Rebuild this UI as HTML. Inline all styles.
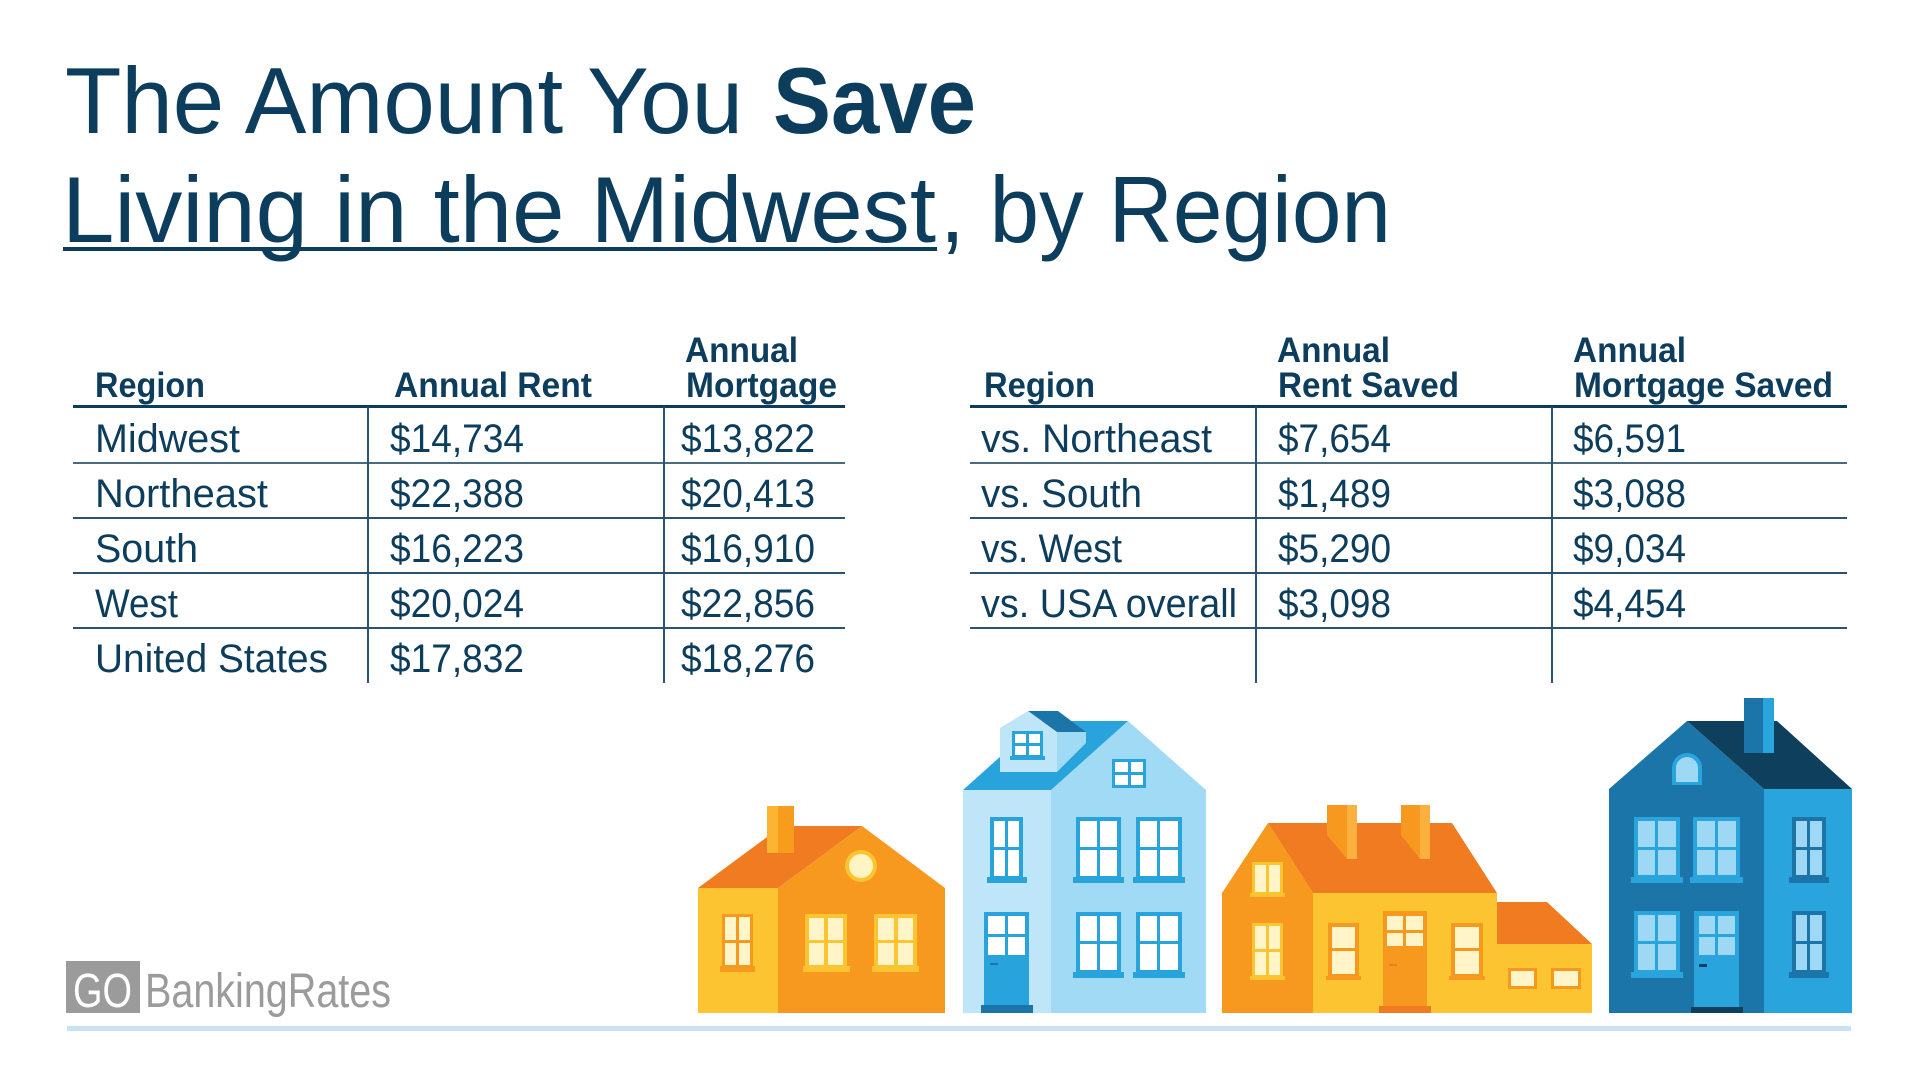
<!DOCTYPE html>
<html>
<head>
<meta charset="utf-8">
<style>
html,body{margin:0;padding:0;background:#fff;}
svg{display:block;}
text{font-family:"Liberation Sans",Arial,sans-serif;fill:#0d3d5c;}
.h{font-weight:bold;font-size:35px;}
.r{font-size:40px;}
</style>
</head>
<body>
<svg width="1920" height="1080" viewBox="0 0 1920 1080" xmlns="http://www.w3.org/2000/svg">
<rect width="1920" height="1080" fill="#fff"/>

<!-- Title -->
<text x="65" y="133" font-size="94" textLength="678" lengthAdjust="spacingAndGlyphs">The Amount You</text>
<text x="773" y="133" font-size="94" font-weight="bold" textLength="203" lengthAdjust="spacingAndGlyphs">Save</text>
<text x="62" y="242" font-size="94" textLength="874" lengthAdjust="spacingAndGlyphs">Living in the Midwest</text>
<text x="940" y="242" font-size="94" textLength="451" lengthAdjust="spacingAndGlyphs">, by Region</text>
<rect x="63" y="247" width="874" height="4" fill="#0d3d5c"/>

<!-- Left table -->
<g>
<text class="h" x="95" y="397" textLength="110" lengthAdjust="spacingAndGlyphs">Region</text>
<text class="h" x="394" y="397" textLength="198" lengthAdjust="spacingAndGlyphs">Annual Rent</text>
<text class="h" x="685" y="362" textLength="113" lengthAdjust="spacingAndGlyphs">Annual</text>
<text class="h" x="686" y="397" textLength="151" lengthAdjust="spacingAndGlyphs">Mortgage</text>
<rect x="73" y="405" width="772" height="3" fill="#0d3d5c"/>
<rect x="73" y="462" width="772" height="2" fill="#4a6a82"/>
<rect x="73" y="517" width="772" height="2" fill="#2a5472"/>
<rect x="73" y="572" width="772" height="2" fill="#2a5472"/>
<rect x="73" y="627" width="772" height="2" fill="#2a5472"/>
<rect x="367" y="407" width="2" height="276" fill="#2a5472"/>
<rect x="663" y="407" width="2" height="276" fill="#2a5472"/>

<text class="r" x="95" y="452" textLength="145" lengthAdjust="spacingAndGlyphs">Midwest</text>
<text class="r" x="95" y="507" textLength="173" lengthAdjust="spacingAndGlyphs">Northeast</text>
<text class="r" x="95" y="562" textLength="103" lengthAdjust="spacingAndGlyphs">South</text>
<text class="r" x="95" y="617" textLength="83" lengthAdjust="spacingAndGlyphs">West</text>
<text class="r" x="95" y="672" textLength="233" lengthAdjust="spacingAndGlyphs">United States</text>

<text class="r" x="390" y="452" textLength="134" lengthAdjust="spacingAndGlyphs">$14,734</text>
<text class="r" x="390" y="507" textLength="134" lengthAdjust="spacingAndGlyphs">$22,388</text>
<text class="r" x="390" y="562" textLength="134" lengthAdjust="spacingAndGlyphs">$16,223</text>
<text class="r" x="390" y="617" textLength="134" lengthAdjust="spacingAndGlyphs">$20,024</text>
<text class="r" x="390" y="672" textLength="134" lengthAdjust="spacingAndGlyphs">$17,832</text>

<text class="r" x="681" y="452" textLength="134" lengthAdjust="spacingAndGlyphs">$13,822</text>
<text class="r" x="681" y="507" textLength="134" lengthAdjust="spacingAndGlyphs">$20,413</text>
<text class="r" x="681" y="562" textLength="134" lengthAdjust="spacingAndGlyphs">$16,910</text>
<text class="r" x="681" y="617" textLength="134" lengthAdjust="spacingAndGlyphs">$22,856</text>
<text class="r" x="681" y="672" textLength="134" lengthAdjust="spacingAndGlyphs">$18,276</text>
</g>

<!-- Right table -->
<g>
<text class="h" x="984" y="397" textLength="111" lengthAdjust="spacingAndGlyphs">Region</text>
<text class="h" x="1277" y="362" textLength="113" lengthAdjust="spacingAndGlyphs">Annual</text>
<text class="h" x="1278" y="397" textLength="181" lengthAdjust="spacingAndGlyphs">Rent Saved</text>
<text class="h" x="1573" y="362" textLength="113" lengthAdjust="spacingAndGlyphs">Annual</text>
<text class="h" x="1574" y="397" textLength="259" lengthAdjust="spacingAndGlyphs">Mortgage Saved</text>
<rect x="970" y="405" width="877" height="3" fill="#0d3d5c"/>
<rect x="970" y="462" width="877" height="2" fill="#4a6a82"/>
<rect x="970" y="517" width="877" height="2" fill="#2a5472"/>
<rect x="970" y="572" width="877" height="2" fill="#2a5472"/>
<rect x="970" y="627" width="877" height="2" fill="#2a5472"/>
<rect x="1255" y="407" width="2" height="276" fill="#2a5472"/>
<rect x="1551" y="407" width="2" height="276" fill="#2a5472"/>

<text class="r" x="981" y="452" textLength="231" lengthAdjust="spacingAndGlyphs">vs. Northeast</text>
<text class="r" x="981" y="507" textLength="161" lengthAdjust="spacingAndGlyphs">vs. South</text>
<text class="r" x="981" y="562" textLength="141" lengthAdjust="spacingAndGlyphs">vs. West</text>
<text class="r" x="981" y="617" textLength="256" lengthAdjust="spacingAndGlyphs">vs. USA overall</text>

<text class="r" x="1278" y="452" textLength="113" lengthAdjust="spacingAndGlyphs">$7,654</text>
<text class="r" x="1278" y="507" textLength="113" lengthAdjust="spacingAndGlyphs">$1,489</text>
<text class="r" x="1278" y="562" textLength="113" lengthAdjust="spacingAndGlyphs">$5,290</text>
<text class="r" x="1278" y="617" textLength="113" lengthAdjust="spacingAndGlyphs">$3,098</text>

<text class="r" x="1573" y="452" textLength="113" lengthAdjust="spacingAndGlyphs">$6,591</text>
<text class="r" x="1573" y="507" textLength="113" lengthAdjust="spacingAndGlyphs">$3,088</text>
<text class="r" x="1573" y="562" textLength="113" lengthAdjust="spacingAndGlyphs">$9,034</text>
<text class="r" x="1573" y="617" textLength="113" lengthAdjust="spacingAndGlyphs">$4,454</text>
</g>

<!-- Logo -->
<rect x="66" y="961" width="74" height="52" fill="#9b9b9b"/>
<text x="73" y="1007" font-size="48" style="fill:#fff" textLength="59" lengthAdjust="spacingAndGlyphs">GO</text>
<text x="145" y="1007" font-size="48" style="fill:#9b9b9b" textLength="246" lengthAdjust="spacingAndGlyphs">BankingRates</text>

<!-- Ground line -->
<rect x="67" y="1026" width="1784" height="5" fill="#c9e3f4"/>

<!-- House 1 (orange) -->
<g>
<rect x="698" y="888" width="80" height="125" fill="#fcc431"/>
<polygon points="778,888 862,826 945,888 945,1013 778,1013" fill="#f7991e"/>
<polygon points="698,888 778,888 862,826 782,826" fill="#f07b21"/>
<rect x="767" y="806" width="11" height="47" fill="#fcb532"/>
<rect x="778" y="806" width="16" height="47" fill="#f89c1e"/>
<circle cx="861" cy="866" r="16" fill="#fcc431"/>
<circle cx="861" cy="866" r="12" fill="#fff5c4"/>
<!-- left window -->
<rect x="722" y="914" width="31" height="53" fill="#f7991e"/>
<rect x="725" y="917" width="25" height="48" fill="#fff5c8"/>
<rect x="736" y="917" width="3" height="48" fill="#f7991e"/>
<rect x="725" y="940" width="25" height="3" fill="#f7991e"/>
<rect x="720" y="966" width="35" height="6" fill="#f7991e"/>
<!-- right windows -->
<rect x="805" y="914" width="42" height="53" fill="#fcc431"/>
<rect x="809" y="918" width="34" height="47" fill="#fff5c8"/>
<rect x="824" y="918" width="4" height="47" fill="#fcc431"/>
<rect x="809" y="940" width="34" height="3" fill="#fcc431"/>
<rect x="803" y="966" width="47" height="6" fill="#fcc431"/>
<rect x="874" y="914" width="43" height="53" fill="#fcc431"/>
<rect x="878" y="918" width="35" height="47" fill="#fff5c8"/>
<rect x="894" y="918" width="4" height="47" fill="#fcc431"/>
<rect x="878" y="940" width="35" height="3" fill="#fcc431"/>
<rect x="872" y="966" width="47" height="6" fill="#fcc431"/>
</g>

<!-- House 2 (light blue) -->
<g>
<rect x="963" y="790" width="88" height="223" fill="#bee5f8"/>
<polygon points="1051,790 1128,721 1206,790 1206,1013 1051,1013" fill="#a0daf5"/>
<polygon points="963,790 1051,790 1128,721 1040,721" fill="#29a3dc"/>
<!-- dormer -->
<polygon points="1057,732 1086,732 1086,743 1057,772" fill="#a0daf5"/>
<polygon points="1028,711 1058,711 1086,732 1057,732" fill="#1b75a9"/>
<polygon points="1000,772 1000,728 1028,711 1057,732 1057,772" fill="#bee5f8"/>
<rect x="1012" y="731" width="31" height="27" fill="#29a3dc"/>
<rect x="1015" y="734" width="25" height="21" fill="#fff"/>
<rect x="1026" y="734" width="3" height="21" fill="#29a3dc"/>
<rect x="1015" y="743" width="25" height="3" fill="#29a3dc"/>
<rect x="1010" y="756" width="35" height="4" fill="#29a3dc"/>
<!-- gable window -->
<rect x="1112" y="759" width="34" height="29" fill="#29a3dc"/>
<rect x="1115" y="762" width="28" height="23" fill="#fff"/>
<rect x="1128" y="762" width="3" height="23" fill="#29a3dc"/>
<rect x="1115" y="772" width="28" height="3" fill="#29a3dc"/>
<!-- upper windows -->
<rect x="990" y="817" width="33" height="62" fill="#29a3dc"/>
<rect x="994" y="821" width="25" height="55" fill="#fff"/>
<rect x="1005" y="821" width="3" height="55" fill="#29a3dc"/>
<rect x="994" y="847" width="25" height="3" fill="#29a3dc"/>
<rect x="987" y="877" width="40" height="6" fill="#29a3dc"/>

<rect x="1076" y="817" width="45" height="62" fill="#29a3dc"/>
<rect x="1080" y="821" width="37" height="55" fill="#fff"/>
<rect x="1097" y="821" width="3" height="55" fill="#29a3dc"/>
<rect x="1080" y="847" width="37" height="3" fill="#29a3dc"/>
<rect x="1073" y="877" width="51" height="6" fill="#29a3dc"/>

<rect x="1136" y="817" width="46" height="62" fill="#29a3dc"/>
<rect x="1140" y="821" width="38" height="55" fill="#fff"/>
<rect x="1157" y="821" width="3" height="55" fill="#29a3dc"/>
<rect x="1140" y="847" width="38" height="3" fill="#29a3dc"/>
<rect x="1133" y="877" width="52" height="6" fill="#29a3dc"/>
<!-- lower windows -->
<rect x="1076" y="912" width="45" height="61" fill="#29a3dc"/>
<rect x="1080" y="916" width="37" height="54" fill="#fff"/>
<rect x="1097" y="916" width="3" height="54" fill="#29a3dc"/>
<rect x="1080" y="941" width="37" height="3" fill="#29a3dc"/>
<rect x="1073" y="972" width="51" height="6" fill="#29a3dc"/>

<rect x="1136" y="912" width="46" height="61" fill="#29a3dc"/>
<rect x="1140" y="916" width="38" height="54" fill="#fff"/>
<rect x="1157" y="916" width="3" height="54" fill="#29a3dc"/>
<rect x="1140" y="941" width="38" height="3" fill="#29a3dc"/>
<rect x="1133" y="972" width="52" height="6" fill="#29a3dc"/>
<!-- door -->
<rect x="984" y="912" width="45" height="93" fill="#29a3dc"/>
<rect x="988" y="916" width="37" height="39" fill="#fff"/>
<rect x="1005" y="916" width="3" height="39" fill="#29a3dc"/>
<rect x="988" y="934" width="37" height="3" fill="#29a3dc"/>
<rect x="990" y="963" width="8" height="2" fill="#1b75a9"/>
<rect x="981" y="1005" width="52" height="8" fill="#1b75a9"/>
</g>

<!-- House 3 (orange/yellow) -->
<g>
<polygon points="1222,893 1268,823 1313,893 1313,1013 1222,1013" fill="#f7991e"/>
<polygon points="1268,823 1452,823 1497,893 1313,893" fill="#f07b21"/>
<rect x="1313" y="893" width="184" height="120" fill="#fcc431"/>
<!-- chimneys -->
<polygon points="1327,805 1347,805 1347,859 1327,835" fill="#f7991e"/>
<rect x="1347" y="805" width="10" height="54" fill="#fbb040"/>
<polygon points="1401,805 1420,805 1420,859 1401,835" fill="#f7991e"/>
<rect x="1420" y="805" width="10" height="54" fill="#fbb040"/>
<!-- extension -->
<polygon points="1497,902 1547,902 1592,944 1497,944" fill="#f07b21"/>
<rect x="1497" y="944" width="95" height="69" fill="#fcc431"/>
<rect x="1508" y="968" width="29" height="21" fill="#f7991e"/>
<rect x="1511" y="971" width="23" height="15" fill="#fff5c8"/>
<rect x="1551" y="968" width="30" height="21" fill="#f7991e"/>
<rect x="1554" y="971" width="24" height="15" fill="#fff5c8"/>
<!-- left section windows -->
<rect x="1252" y="862" width="31" height="33" fill="#fcc431"/>
<rect x="1255" y="865" width="25" height="27" fill="#fff5c8"/>
<rect x="1266" y="865" width="3" height="27" fill="#fcc431"/>
<rect x="1250" y="893" width="35" height="4" fill="#fcc431"/>
<rect x="1252" y="923" width="31" height="55" fill="#fcc431"/>
<rect x="1255" y="926" width="25" height="49" fill="#fff5c8"/>
<rect x="1266" y="926" width="3" height="49" fill="#fcc431"/>
<rect x="1255" y="949" width="25" height="3" fill="#fcc431"/>
<rect x="1250" y="976" width="35" height="4" fill="#fcc431"/>
<!-- main windows -->
<rect x="1328" y="923" width="31" height="55" fill="#f7991e"/>
<rect x="1332" y="927" width="23" height="47" fill="#fff5c8"/>
<rect x="1332" y="948" width="23" height="3" fill="#f7991e"/>
<rect x="1326" y="976" width="35" height="4" fill="#f7991e"/>
<rect x="1451" y="923" width="32" height="55" fill="#f7991e"/>
<rect x="1455" y="927" width="24" height="47" fill="#fff5c8"/>
<rect x="1455" y="948" width="24" height="3" fill="#f7991e"/>
<rect x="1449" y="976" width="36" height="4" fill="#f7991e"/>
<!-- door -->
<rect x="1383" y="911" width="44" height="95" fill="#f7991e"/>
<rect x="1387" y="916" width="36" height="30" fill="#fff5c8"/>
<rect x="1403" y="916" width="3" height="30" fill="#f7991e"/>
<rect x="1387" y="930" width="36" height="3" fill="#f7991e"/>
<rect x="1389" y="964" width="8" height="2" fill="#f07b21"/>
<rect x="1379" y="1006" width="52" height="7" fill="#f07b21"/>
</g>

<!-- House 4 (dark blue) -->
<g>
<polygon points="1609,789 1687,721 1764,789 1764,1013 1609,1013" fill="#1b75a9"/>
<rect x="1764" y="789" width="88" height="224" fill="#29a4dd"/>
<polygon points="1687,721 1777,721 1852,789 1764,789" fill="#0e3f5c"/>
<rect x="1744" y="698" width="19" height="55" fill="#1b75a9"/>
<rect x="1763" y="698" width="11" height="55" fill="#29a4dd"/>
<!-- arch window -->
<path d="M1672,785 V768 A15,15 0 0 1 1702,768 V785 Z" fill="#29a4dd"/>
<path d="M1676,782 V768 A11,11 0 0 1 1698,768 V782 Z" fill="#9fd8f5"/>
<!-- upper windows left section -->
<rect x="1634" y="817" width="46" height="61" fill="#29a4dd"/>
<rect x="1638" y="821" width="38" height="54" fill="#9fd8f5"/>
<rect x="1655" y="821" width="3" height="54" fill="#29a4dd"/>
<rect x="1638" y="847" width="38" height="3" fill="#29a4dd"/>
<rect x="1631" y="877" width="52" height="6" fill="#29a4dd"/>
<rect x="1693" y="817" width="47" height="61" fill="#29a4dd"/>
<rect x="1697" y="821" width="39" height="54" fill="#9fd8f5"/>
<rect x="1715" y="821" width="3" height="54" fill="#29a4dd"/>
<rect x="1697" y="847" width="39" height="3" fill="#29a4dd"/>
<rect x="1690" y="877" width="53" height="6" fill="#29a4dd"/>
<!-- right section upper -->
<rect x="1792" y="817" width="34" height="61" fill="#1b75a9"/>
<rect x="1796" y="821" width="26" height="54" fill="#9fd8f5"/>
<rect x="1807" y="821" width="3" height="54" fill="#1b75a9"/>
<rect x="1796" y="847" width="26" height="3" fill="#1b75a9"/>
<rect x="1789" y="877" width="40" height="6" fill="#1b75a9"/>
<!-- lower left window -->
<rect x="1634" y="911" width="46" height="62" fill="#29a4dd"/>
<rect x="1638" y="915" width="38" height="55" fill="#9fd8f5"/>
<rect x="1655" y="915" width="3" height="55" fill="#29a4dd"/>
<rect x="1638" y="941" width="38" height="3" fill="#29a4dd"/>
<rect x="1631" y="972" width="52" height="6" fill="#29a4dd"/>
<!-- lower right section -->
<rect x="1792" y="911" width="34" height="62" fill="#1b75a9"/>
<rect x="1796" y="915" width="26" height="55" fill="#9fd8f5"/>
<rect x="1807" y="915" width="3" height="55" fill="#1b75a9"/>
<rect x="1796" y="941" width="26" height="3" fill="#1b75a9"/>
<rect x="1789" y="972" width="40" height="6" fill="#1b75a9"/>
<!-- door -->
<rect x="1694" y="911" width="45" height="96" fill="#29a4dd"/>
<rect x="1699" y="916" width="36" height="39" fill="#9fd8f5"/>
<rect x="1715" y="916" width="3" height="39" fill="#29a4dd"/>
<rect x="1699" y="934" width="36" height="3" fill="#29a4dd"/>
<rect x="1699" y="964" width="8" height="3" fill="#0e3f5c"/>
<rect x="1691" y="1007" width="52" height="6" fill="#0e3f5c"/>
</g>
</svg>
</body>
</html>
